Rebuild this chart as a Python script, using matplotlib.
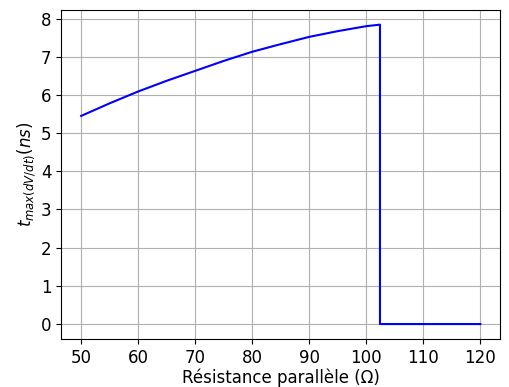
import numpy as np
import matplotlib
matplotlib.use('Agg')
import matplotlib.pyplot as plt

# resistance (ohm) and time of max dV/dt (ns)
R = [50, 55, 60, 65, 70, 75, 80, 85, 90, 95, 100, 102.4, 102.4, 110, 120]
t = [5.45, 5.78, 6.09, 6.37, 6.63, 6.89, 7.13, 7.33, 7.52, 7.67, 7.80, 7.84, 0.0, 0.0, 0.0]

fig = plt.figure(figsize=(5.10, 3.87), dpi=100)
ax = fig.add_axes([0.12, 0.124, 0.861, 0.851])
ax.plot(R, t, color='b')
ax.set_xlabel('Résistance parallèle (Ω)', fontsize=12, labelpad=1.5)
ax.set_ylabel(r'$t_{max(dV/dt)}(ns)$', fontsize=12, labelpad=2)
ax.tick_params(labelsize=12)
ax.set_xticks(np.arange(50, 121, 10))
ax.set_yticks(np.arange(0, 9, 1))
ax.grid()
fig.savefig('out.png')
